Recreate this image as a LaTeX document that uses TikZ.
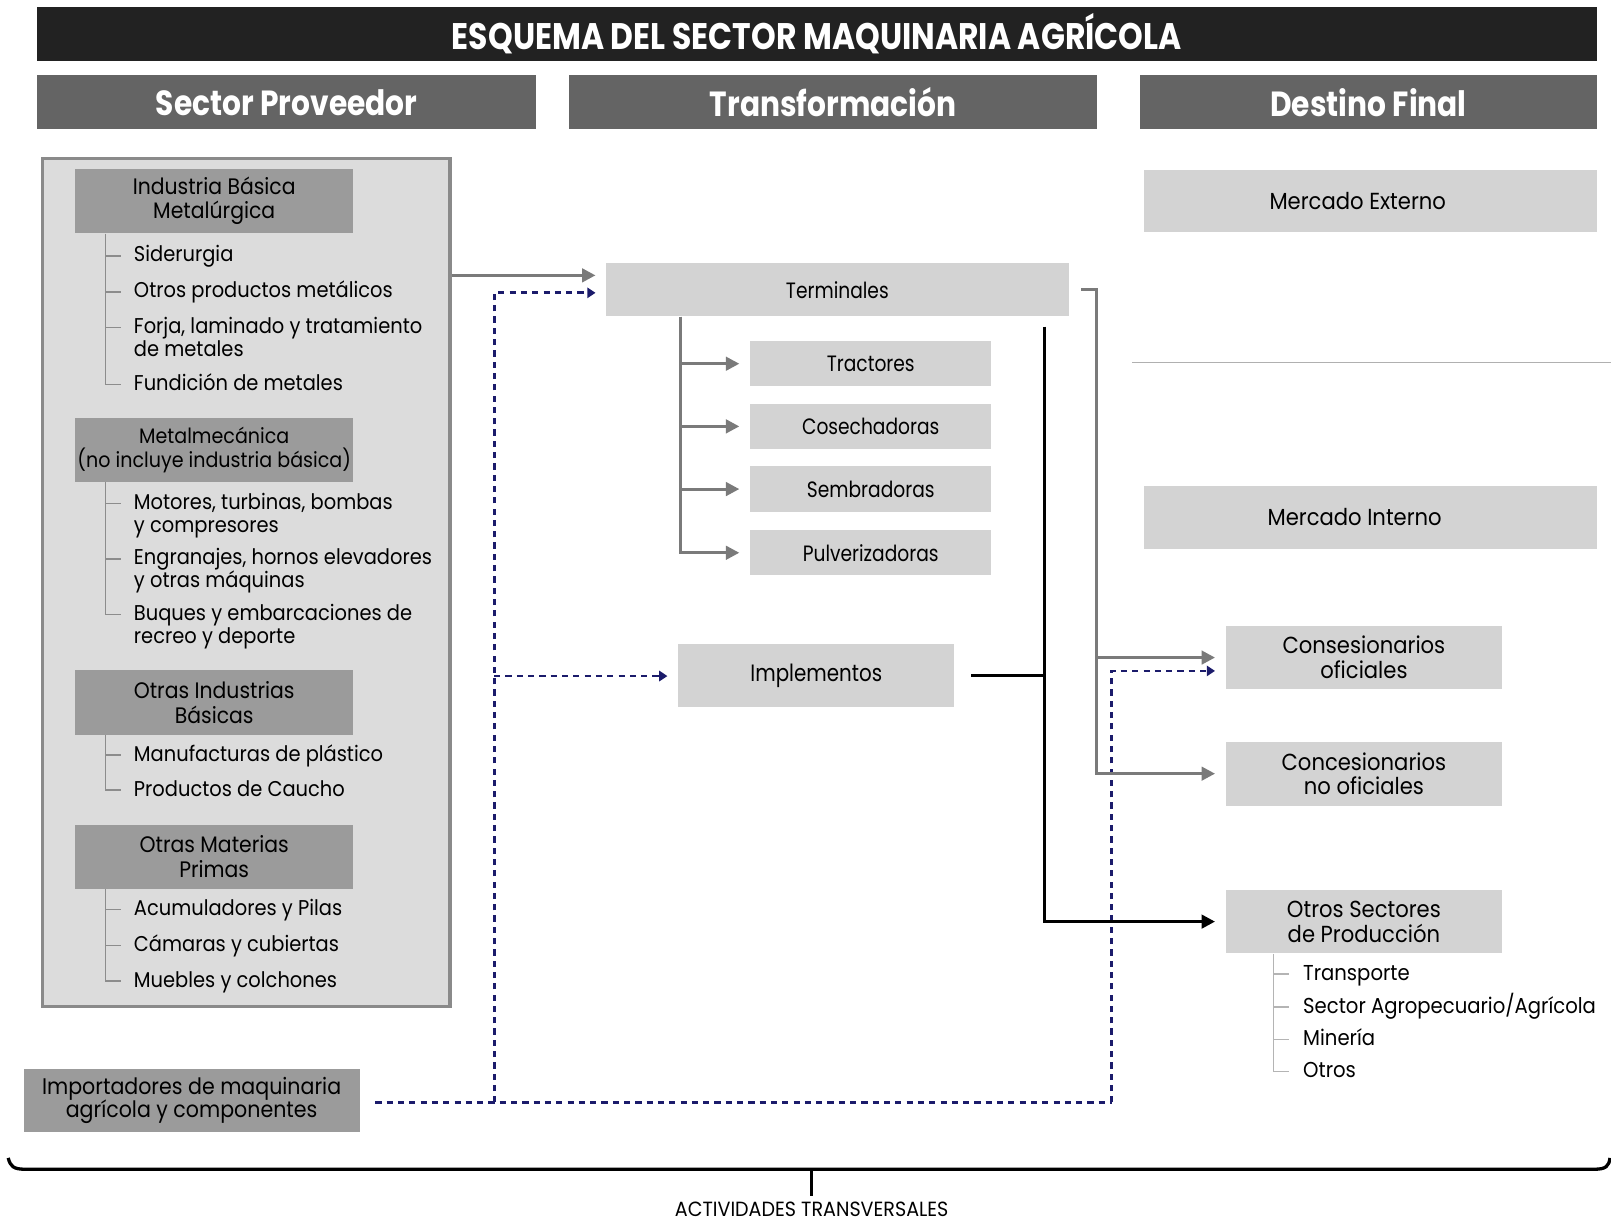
\documentclass[tikz,border=0pt]{standalone}
\usepackage{fontspec}
\setmainfont[FakeStretch=0.91]{Poppins}
\newfontfamily\hfont[FakeStretch=0.85]{Poppins}
\newfontfamily\cfont[FakeStretch=0.84]{Poppins}
\newfontfamily\afont[FakeStretch=0.93]{Poppins}
\usetikzlibrary{arrows.meta,calc}
\definecolor{ctitle}{HTML}{222222}
\definecolor{chdr}{HTML}{646464}
\definecolor{cprov}{HTML}{DCDCDC}
\definecolor{cprovd}{HTML}{8A8A8A}
\definecolor{csh}{HTML}{9B9B9B}
\definecolor{cbox}{HTML}{D3D3D3}
\definecolor{cgray}{HTML}{7A7A7A}
\definecolor{cnavy}{HTML}{1B1B6B}
\definecolor{ctree}{HTML}{8C8C8C}
\definecolor{ctreeb}{HTML}{B4B4B4}
\definecolor{csep}{HTML}{B0B0B0}
\newcommand\mystrut{\rule{0pt}{9pt}}
\tikzset{
  titlebox/.style={fill=ctitle, text=white, inner sep=0pt, font=\hfont\bfseries\fontsize{18}{18}\selectfont},
  hdrbox/.style={fill=chdr, text=white, inner sep=0pt, minimum height=26.5pt, font=\hfont\bfseries\fontsize{17}{17}\selectfont},
  provbox/.style={fill=cprov, draw=cprovd, line width=1.5pt, inner sep=0pt},
  shbox/.style={fill=csh, inner sep=0pt, align=center, minimum width=135.5pt, font=\fontsize{10.9}{12}\selectfont},
  midbox/.style={fill=cbox, inner sep=0pt, align=center, font=\cfont\fontsize{10.8}{12}\selectfont},
  destbox/.style={fill=cbox, inner sep=0pt, align=center, font=\fontsize{11.3}{12}\selectfont},
  item/.style={anchor=north west, inner sep=0pt, align=left, font=\fontsize{10.4}{11}\selectfont},
  ditem/.style={anchor=base west, inner sep=0pt, align=left, font=\fontsize{10.5}{11}\selectfont},
  gline/.style={draw=cgray, line width=1.5pt},
  garr/.style={gline, -{Triangle[length=6.5pt,width=6.5pt]}},
  bdash/.style={draw=cnavy, line width=1.3pt, dash pattern=on 3pt off 2.5pt},
  barr/.style={bdash, -{Triangle[length=4pt,width=5pt]}},
  kline/.style={draw=black, line width=1.5pt},
  karr/.style={kline, -{Triangle[length=6.5pt,width=6.5pt]}},
  tree/.style={draw=ctree, line width=0.7pt},
  treeb/.style={draw=ctreeb, line width=0.7pt},
}
\begin{document}
\begin{tikzpicture}[x=0.5pt,y=-0.5pt]
\fill[white] (0,0) rectangle (1568,1190);
\useasboundingbox (0,0) rectangle (1568,1190);

% title and headers
\node[titlebox, minimum width=759pt, minimum height=26pt] (title) at (795,33) {ESQUEMA DEL SECTOR MAQUINARIA AGRÍCOLA};
\node[hdrbox, minimum width=243pt] (h1) at (279,99.5) {Sector Proveedor};
\node[hdrbox, minimum width=257pt] (h2) at (811,99.5) {Transformación};
\node[hdrbox, minimum width=222pt] (h3) at (1332,99.5) {Destino Final};

% supplier box
\node[provbox, minimum width=198.5pt, minimum height=413pt] (prov) at (239.5,567) {};
\node[shbox, minimum height=31.5pt] (sh1) at (208.5,195.5) {Industria Básica\\Metalúrgica};
\node[shbox, minimum height=31pt, font=\fontsize{10.2}{12}\selectfont] (sh2) at (208.5,438) {Metalmecánica\\(no incluye industria básica)};
\node[shbox, minimum height=31.5pt] (sh3) at (208.5,683.5) {Otras Industrias\\Básicas};
\node[shbox, minimum height=31pt] (sh4) at (208.5,834) {Otras Materias\\Primas};

\node[item] (i11) at (130,236.5) {\mystrut Siderurgia};
\node[item] (i12) at (130,271.5) {\mystrut Otros productos metálicos};
\node[item] (i13) at (130,306.5) {\mystrut Forja, laminado y tratamiento\\de metales};
\node[item] (i14) at (130,361.5) {\mystrut Fundición de metales};
\node[item] (i21) at (130,477.5) {\mystrut Motores, turbinas, bombas\\y compresores};
\node[item] (i22) at (130,531.5) {\mystrut Engranajes, hornos elevadores\\y otras máquinas};
\node[item] (i23) at (130,585.5) {\mystrut Buques y embarcaciones de\\recreo y deporte};
\node[item] (i31) at (130,722.5) {\mystrut Manufacturas de plástico};
\node[item] (i32) at (130,756.5) {\mystrut Productos de Caucho};
\node[item] (i41) at (130,872.5) {\mystrut Acumuladores y Pilas};
\node[item] (i42) at (130,907.5) {\mystrut Cámaras y cubiertas};
\node[item] (i43) at (130,942.5) {\mystrut Muebles y colchones};

% trees in supplier box
\draw[tree] ([xshift=15pt]sh1.south west) |- ([xshift=-6pt,yshift=-6.25pt]i14.north west);
\foreach \n in {i11,i12,i13} \draw[tree] ([xshift=-13.5pt,yshift=-6.25pt]\n.north west) -- ([xshift=-6pt,yshift=-6.25pt]\n.north west);
\draw[tree] ([xshift=15pt]sh2.south west) |- ([xshift=-6pt,yshift=-6.25pt]i23.north west);
\foreach \n in {i21,i22} \draw[tree] ([xshift=-13.5pt,yshift=-6.25pt]\n.north west) -- ([xshift=-6pt,yshift=-6.25pt]\n.north west);
\draw[tree] ([xshift=15pt]sh3.south west) |- ([xshift=-6pt,yshift=-6.25pt]i32.north west);
\draw[tree] ([xshift=-13.5pt,yshift=-6.25pt]i31.north west) -- ([xshift=-6pt,yshift=-6.25pt]i31.north west);
\draw[tree] ([xshift=15pt]sh4.south west) |- ([xshift=-6pt,yshift=-6.25pt]i43.north west);
\foreach \n in {i41,i42} \draw[tree] ([xshift=-13.5pt,yshift=-6.25pt]\n.north west) -- ([xshift=-6pt,yshift=-6.25pt]\n.north west);

% importers
\node[shbox, fill=csh, minimum width=163.5pt, minimum height=31pt, font=\fontsize{11}{11.5}\selectfont] (imp) at (186.5,1071) {Importadores de maquinaria\\agrícola y componentes};

% transformation column
\node[midbox, minimum width=225pt, minimum height=26pt] (term) at (815,282) {Terminales};
\node[midbox, minimum width=117.5pt, minimum height=22pt] (trac) at (847.5,354) {Tractores};
\node[midbox, minimum width=117.5pt, minimum height=22pt] (cose) at (847.5,415) {Cosechadoras};
\node[midbox, minimum width=117.5pt, minimum height=22pt] (semb) at (847.5,476) {Sembradoras};
\node[midbox, minimum width=117.5pt, minimum height=22pt] (pulv) at (847.5,538) {Pulverizadoras};
\node[midbox, minimum width=134.5pt, minimum height=30.5pt, font=\cfont\fontsize{11.5}{12}\selectfont] (impl) at (794.5,657.5) {Implementos};

% final destination column
\node[destbox, minimum width=220.5pt, minimum height=30.5pt] (mext) at (1333.5,195.5) {Mercado Externo\rule{12pt}{0pt}};
\node[destbox, minimum width=220.5pt, minimum height=30.5pt] (mint) at (1333.5,503.5) {Mercado Interno\rule{15pt}{0pt}};
\node[destbox, minimum width=134.5pt, minimum height=31pt] (cof) at (1327.5,640) {Consesionarios\\oficiales};
\node[destbox, minimum width=134.5pt, minimum height=31pt] (cnof) at (1327.5,753) {Concesionarios\\no oficiales};
\node[destbox, minimum width=134.5pt, minimum height=31pt] (otros) at (1327.5,897) {Otros Sectores\\de Producción};
\node[ditem] (o1) at (1268,954) {Transporte};
\node[ditem] (o2) at (1268,986) {Sector Agropecuario/Agrícola};
\node[ditem] (o3) at (1268,1018) {Minería};
\node[ditem] (o4) at (1268,1049) {Otros};
\draw[treeb] ([xshift=23.5pt]otros.south west) |- ([xshift=-6.5pt,yshift=3pt]o4.base west);
\foreach \n in {o1,o2,o3} \draw[treeb] ([xshift=-14pt,yshift=3pt]\n.base west) -- ([xshift=-6.5pt,yshift=3pt]\n.base west);

% separator
\coordinate (sepL) at (1102,353);
\coordinate (sepR) at (1568,353);
\draw[draw=csep, line width=0.6pt] (sepL) -- (sepR);

% helper coordinates
\coordinate (r268) at (0,268);
\coordinate (r285) at (0,285);
\coordinate (r653) at (0,653);
\coordinate (dv) at (481,1073);
\coordinate (dv2) at (481,658);
\coordinate (dj) at (1082,1073);
\coordinate (tv) at (1067,282);
\coordinate (bt) at (1017,318);

% grey supply arrow
\draw[garr, shorten >=5pt] (prov.east |- r268) -- (term.west |- r268);

% blue dashed importer flows
\draw[bdash, shorten <=7.5pt] (imp.east |- dj) -- (dj);
\draw[barr, shorten >=5pt] (dj) |- (cof.west |- r653);
\draw[barr, shorten >=5pt] (dv) |- (term.west |- r285);
\draw[barr, shorten >=5pt] (dv2) -- (impl.west |- dv2);

% terminales tree
\coordinate (tt) at ([xshift=36.5pt]term.south west);
\foreach \n in {trac,cose,semb,pulv} \draw[garr, shorten >=5pt] (tt) |- (\n.west);

% terminales to dealers
\draw[garr, shorten <=6pt, shorten >=5pt] (term.east) -- (tv) |- (cof.west);
\draw[garr, shorten >=5pt] (tv) |- (cnof.west);

% black lines
\draw[karr, shorten >=5pt] (bt) |- (otros.west);
\draw[kline, shorten <=8pt] (impl.east) -- (impl.east -| bt);

% bottom brace
\coordinate (bL) at (8,1127);
\coordinate (bR) at (1567,1127);
\coordinate (bM) at (790,1138);
\coordinate (bT) at (790,1164);
\draw[kline, line width=1.6pt] (bL) .. controls (10,1135) and (13,1138) .. (24,1138) -- (1552,1138) .. controls (1563,1138) and (1566,1135) .. (bR);
\draw[kline, line width=1.6pt] (bM) -- (bT);
\node[inner sep=0pt, font=\afont\fontsize{10}{10}\selectfont] (act) at (790,1177) {ACTIVIDADES TRANSVERSALES};
\end{tikzpicture}
\end{document}
